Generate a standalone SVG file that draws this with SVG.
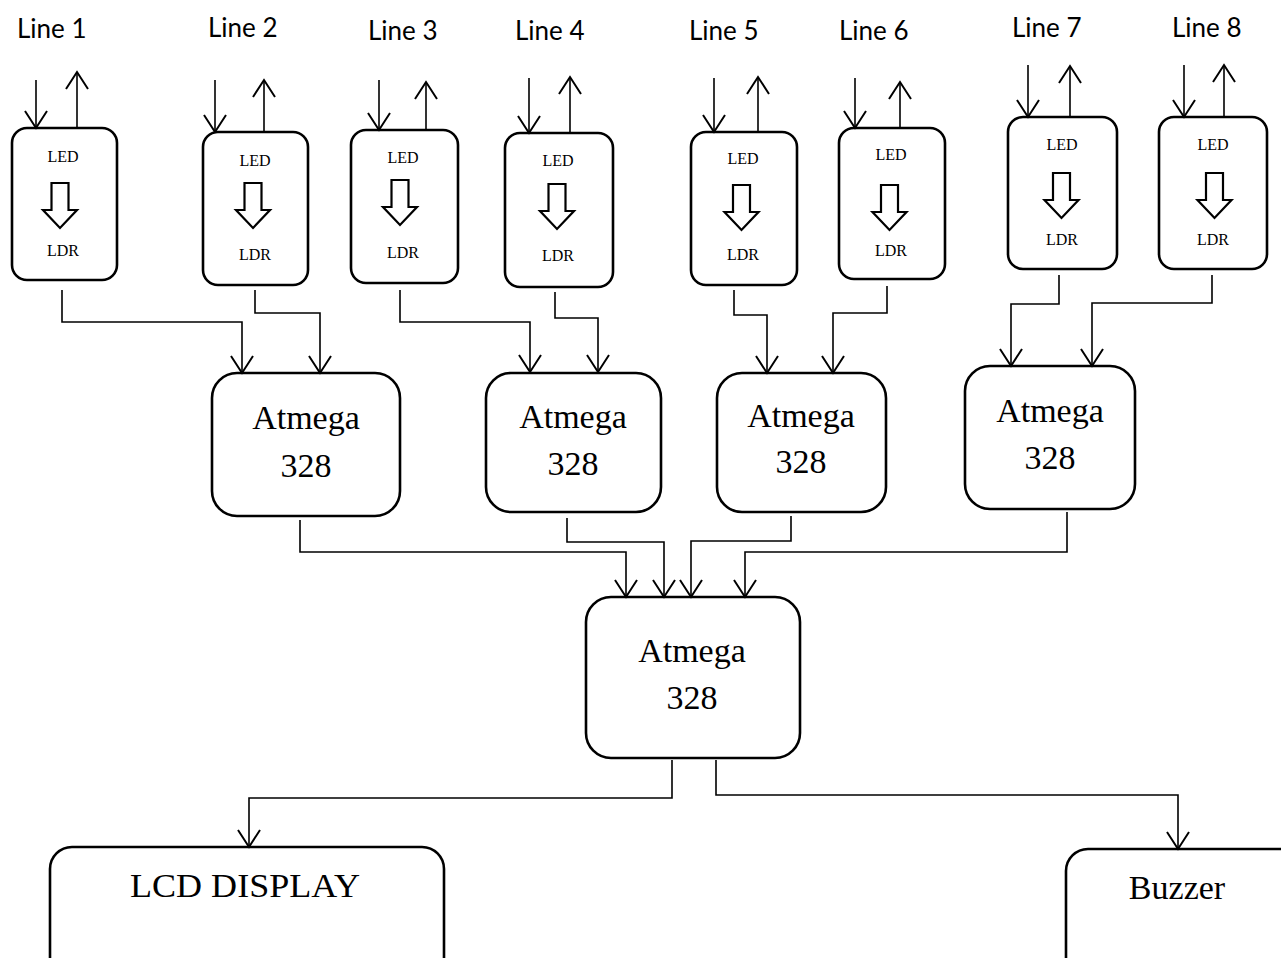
<svg xmlns="http://www.w3.org/2000/svg" width="1281" height="958" viewBox="0 0 1281 958">
<style>
.box{fill:#fff;stroke:#000;stroke-width:2.6}
.ln{fill:none;stroke:#000;stroke-width:1.6}
.ha{fill:#fff;stroke:#000;stroke-width:2.2;stroke-linejoin:miter}
.lbl{font-family:Lato,"Liberation Sans",sans-serif;font-size:26px;fill:#000}
.sm{font-family:"Liberation Serif","Times New Roman",serif;font-size:16px;fill:#000;text-anchor:middle}
.big{font-family:"Liberation Serif","Times New Roman",serif;font-size:34px;fill:#000;text-anchor:middle}
</style>
<defs>
<marker id="ah" markerUnits="userSpaceOnUse" markerWidth="30" markerHeight="30" viewBox="-20 -15 30 30" refX="0" refY="0" orient="auto" overflow="visible">
<path d="M-17,-11 L0,0 L-17,11" fill="none" stroke="#000" stroke-width="2"/>
</marker>
</defs>
<rect width="1281" height="958" fill="#fff"/>

<g id="labels">
<text class="lbl" x="17" y="38">Line 1</text>
<text class="lbl" x="208" y="37">Line 2</text>
<text class="lbl" x="368" y="40">Line 3</text>
<text class="lbl" x="515" y="40">Line 4</text>
<text class="lbl" x="689" y="40">Line 5</text>
<text class="lbl" x="839" y="40">Line 6</text>
<text class="lbl" x="1012" y="37">Line 7</text>
<text class="lbl" x="1172" y="37">Line 8</text>
</g>

<g id="sensor1">
<rect class="box" x="12" y="128" width="105" height="152" rx="15"/>
<text class="sm" x="63" y="162">LED</text>
<path class="ha" d="M51.5,183 H68.5 V210 H77 L60,228 L43,210 H51.5 Z"/>
<text class="sm" x="63" y="256">LDR</text>
</g>
<g id="sensor2">
<rect class="box" x="203" y="132" width="105" height="153" rx="15"/>
<text class="sm" x="255" y="166">LED</text>
<path class="ha" d="M244.5,183 H261.5 V210 H270 L253,228 L236,210 H244.5 Z"/>
<text class="sm" x="255" y="260">LDR</text>
</g>
<g id="sensor3">
<rect class="box" x="351" y="130" width="107" height="153" rx="15"/>
<text class="sm" x="403" y="163">LED</text>
<path class="ha" d="M391.5,180 H408.5 V207 H417 L400,225 L383,207 H391.5 Z"/>
<text class="sm" x="403" y="258">LDR</text>
</g>
<g id="sensor4">
<rect class="box" x="505" y="133" width="108" height="154" rx="15"/>
<text class="sm" x="558" y="166">LED</text>
<path class="ha" d="M548.5,184 H565.5 V211 H574 L557,229 L540,211 H548.5 Z"/>
<text class="sm" x="558" y="261">LDR</text>
</g>
<g id="sensor5">
<rect class="box" x="691" y="132" width="106" height="153" rx="15"/>
<text class="sm" x="743" y="164">LED</text>
<path class="ha" d="M733,185 H750 V212 H758.5 L741.5,230 L724.5,212 H733 Z"/>
<text class="sm" x="743" y="260">LDR</text>
</g>
<g id="sensor6">
<rect class="box" x="839" y="128" width="106" height="151" rx="15"/>
<text class="sm" x="891" y="160">LED</text>
<path class="ha" d="M881,185 H898 V212 H906.5 L889.5,230 L872.5,212 H881 Z"/>
<text class="sm" x="891" y="256">LDR</text>
</g>
<g id="sensor7">
<rect class="box" x="1008" y="117" width="109" height="152" rx="15"/>
<text class="sm" x="1062" y="150">LED</text>
<path class="ha" d="M1053,173 H1070 V200 H1078.5 L1061.5,218 L1044.5,200 H1053 Z"/>
<text class="sm" x="1062" y="245">LDR</text>
</g>
<g id="sensor8">
<rect class="box" x="1159" y="117" width="108" height="152" rx="15"/>
<text class="sm" x="1213" y="150">LED</text>
<path class="ha" d="M1206,173 H1223 V200 H1231.5 L1214.5,218 L1197.5,200 H1206 Z"/>
<text class="sm" x="1213" y="245">LDR</text>
</g>

<g id="mcu1">
<rect class="box" x="212" y="373" width="188" height="143" rx="25"/>
<text class="big" x="306" y="429">Atmega</text>
<text class="big" x="306" y="477">328</text>
</g>
<g id="mcu2">
<rect class="box" x="486" y="373" width="175" height="139" rx="25"/>
<text class="big" x="573" y="428">Atmega</text>
<text class="big" x="573" y="475">328</text>
</g>
<g id="mcu3">
<rect class="box" x="717" y="373" width="169" height="139" rx="25"/>
<text class="big" x="801" y="427">Atmega</text>
<text class="big" x="801" y="473">328</text>
</g>
<g id="mcu4">
<rect class="box" x="965" y="366" width="170" height="143" rx="25"/>
<text class="big" x="1050" y="422">Atmega</text>
<text class="big" x="1050" y="469">328</text>
</g>
<g id="mcuMain">
<rect class="box" x="586" y="597" width="214" height="161" rx="25"/>
<text class="big" x="692" y="662">Atmega</text>
<text class="big" x="692" y="709">328</text>
</g>
<g id="lcd">
<rect class="box" x="50" y="847" width="394" height="140" rx="22"/>
<text class="big" x="245" y="897" textLength="230" lengthAdjust="spacingAndGlyphs">LCD DISPLAY</text>
</g>
<g id="buzzer">
<rect class="box" x="1066" y="849" width="240" height="140" rx="22"/>
<text class="big" x="1177" y="899">Buzzer</text>
</g>

<g id="connectors">
<path class="ln" d="M36,80 V128" marker-end="url(#ah)"/>
<path class="ln" d="M77,128 V72" marker-end="url(#ah)"/>
<path class="ln" d="M215,80 V132" marker-end="url(#ah)"/>
<path class="ln" d="M264,132 V80" marker-end="url(#ah)"/>
<path class="ln" d="M379,80 V130" marker-end="url(#ah)"/>
<path class="ln" d="M426,130 V82" marker-end="url(#ah)"/>
<path class="ln" d="M529,78 V133" marker-end="url(#ah)"/>
<path class="ln" d="M570,133 V77" marker-end="url(#ah)"/>
<path class="ln" d="M714,78 V132" marker-end="url(#ah)"/>
<path class="ln" d="M758,132 V77" marker-end="url(#ah)"/>
<path class="ln" d="M855,78 V128" marker-end="url(#ah)"/>
<path class="ln" d="M900,128 V82" marker-end="url(#ah)"/>
<path class="ln" d="M1028,65 V117" marker-end="url(#ah)"/>
<path class="ln" d="M1070,117 V66" marker-end="url(#ah)"/>
<path class="ln" d="M1184,65 V117" marker-end="url(#ah)"/>
<path class="ln" d="M1224,117 V65" marker-end="url(#ah)"/>

<path class="ln" d="M62,290 V322 H242 V373" marker-end="url(#ah)"/>
<path class="ln" d="M255,290 V313 H320 V373" marker-end="url(#ah)"/>
<path class="ln" d="M400,290 V322 H530 V372" marker-end="url(#ah)"/>
<path class="ln" d="M555,292 V318 H598 V372" marker-end="url(#ah)"/>
<path class="ln" d="M734,290 V315 H767 V373" marker-end="url(#ah)"/>
<path class="ln" d="M887,286 V313 H833 V373" marker-end="url(#ah)"/>
<path class="ln" d="M1059,275 V304 H1011 V366" marker-end="url(#ah)"/>
<path class="ln" d="M1212,275 V303 H1092 V366" marker-end="url(#ah)"/>

<path class="ln" d="M300,520 V552 H626 V597" marker-end="url(#ah)"/>
<path class="ln" d="M567,518 V542 H664 V597" marker-end="url(#ah)"/>
<path class="ln" d="M791,516 V541 H691 V597" marker-end="url(#ah)"/>
<path class="ln" d="M1067,512 V552 H745 V597" marker-end="url(#ah)"/>

<path class="ln" d="M672,760 V798 H249 V847" marker-end="url(#ah)"/>
<path class="ln" d="M716,760 V795 H1178 V849" marker-end="url(#ah)"/>
</g>
</svg>
